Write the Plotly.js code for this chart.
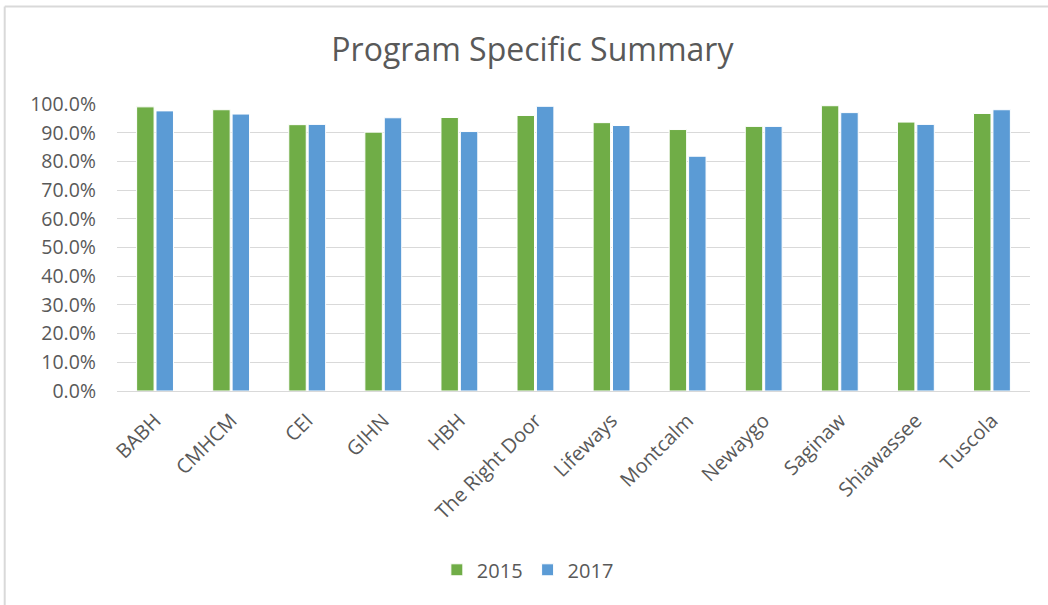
<!DOCTYPE html>
<html>
<head>
<meta charset="utf-8">
<script src="https://cdn.plot.ly/plotly-3.0.1.min.js"></script>
<style>html,body{margin:0;padding:0;background:#fff;}#chart{width:1048px;height:605px;}</style>
</head>
<body>
<div id="chart"></div>
<script>
const categories = ["BABH","CMHCM","CEI","GIHN","HBH","The Right Door","Lifeways","Montcalm","Newaygo","Saginaw","Shiawassee","Tuscola"];
const values2015 = [0.990,0.980,0.928,0.902,0.953,0.960,0.935,0.911,0.922,0.994,0.937,0.967];
const values2017 = [0.976,0.965,0.929,0.952,0.904,0.992,0.925,0.818,0.922,0.970,0.929,0.980];
const seriesNames = ["2015","2017"];

const font = "'Open Sans', 'Noto Sans', sans-serif";
const traces = [
  {type:"bar", name:seriesNames[0], x:categories, y:values2015, marker:{color:"#70AD47", line:{color:"#ffffff", width:1}}},
  {type:"bar", name:seriesNames[1], x:categories, y:values2017, marker:{color:"#5B9BD5", line:{color:"#ffffff", width:1}}}
];
const layout = {
  width:1048, height:605,
  margin:{l:117, r:18, t:104, b:214},
  paper_bgcolor:"#ffffff", plot_bgcolor:"#ffffff",
  font:{family:font, color:"#595959", size:20},
  title:{text:"Program Specific Summary", x:0.508, xanchor:"center", y:0.917, yanchor:"middle", font:{size:32, color:"#595959", family:font}},
  barmode:"group", bargap:0.49, bargroupgap:0.1,
  xaxis:{tickangle:-45, showgrid:false, showline:true, linecolor:"#d9d9d9", linewidth:1, ticks:"", ticklabelstandoff:9, tickfont:{size:20, color:"#595959"}},
  yaxis:{range:[0,1], dtick:0.1, tickformat:".1%", gridcolor:"#d9d9d9", gridwidth:1, zeroline:false, showline:false, ticks:"", ticklabelstandoff:20, tickfont:{size:19.5, color:"#595959"}},
  showlegend:true,
  legend:{orientation:"h", x:0.45, xanchor:"center", y:-0.623, yanchor:"middle", font:{size:20, color:"#595959"}, itemwidth:30},
  shapes:[
    {type:"line", xref:"paper", yref:"paper", x0:-0.123, x1:-0.123, y0:-0.75, y1:1.34, line:{color:"#d9d9d9", width:2}},
    {type:"line", xref:"paper", yref:"paper", x0:-0.123, x1:1.03, y0:1.34, y1:1.34, line:{color:"#d9d9d9", width:2}}
  ]
};
Plotly.newPlot("chart", traces, layout, {displayModeBar:false, staticPlot:true});
</script>
</body>
</html>
